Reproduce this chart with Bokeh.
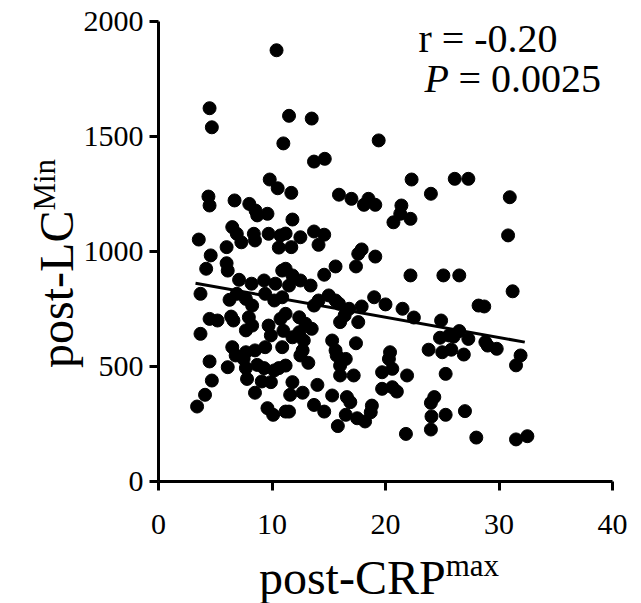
from bokeh.plotting import figure
from bokeh.models import Label, Range1d, FixedTicker
from bokeh.embed import file_html
from bokeh.resources import INLINE
import math

# post-CRP max (x) and post-LC Min (y)
crp = [10.4, 4.5, 4.7, 11.5, 13.5, 19.4, 11.0,
       9.8, 10.5, 4.4, 4.5, 6.7, 8.0, 8.55, 8.7, 9.6, 3.55, 6.5, 6.9, 7.3, 6.0, 8.4, 8.5, 9.7, 10.75, 10.6,
       13.7, 14.65, 11.7, 22.3, 15.9, 17.0, 18.5, 18.1, 19.1, 21.4, 21.3, 20.7, 22.2, 11.8, 11.2, 12.5, 13.7, 14.6, 14.1, 11.7, 17.9,
       26.1, 27.3, 24.0, 30.95, 30.8,
       4.6, 6.0, 6.1, 4.2, 7.1, 8.2, 9.3, 10.3, 10.9, 3.7, 6.26, 6.9, 7.7, 8.25, 9.4, 10.2, 10.9, 4.5, 5.2, 6.4, 6.6, 7.96, 8.25,
       7.7, 9.7, 9.9, 9.4, 10.75, 3.7, 6.5, 7.7, 8.5, 10.9,
       17.6, 17.4, 19.1, 15.6, 14.6, 22.2, 11.2, 11.8, 12.5, 13.4, 11.5, 15.0, 15.6, 14.1, 13.7, 15.9, 16.8, 17.9, 19.0, 20.0,
       21.5, 22.5, 16.4, 16.0, 17.6, 12.4, 12.95, 13.5, 12.4, 11.8, 12.8, 11.2, 15.3, 17.4, 20.4, 12.7, 15.6, 11.0,
       25.1, 26.5, 31.2, 28.2, 28.7, 24.9, 24.8, 25.6, 26.5, 26.0, 27.3, 28.8, 29.0, 29.8, 23.8, 25.0, 25.8, 26.9, 31.9,
       4.5, 6.1, 7.7, 7.8, 8.7, 9.3, 10.2, 10.6, 4.7, 9.1, 9.9, 4.1, 8.5, 3.4, 9.6, 10.1, 11.2, 6.8, 7.5,
       11.2, 13.2, 16.0, 16.0, 17.2, 19.7, 20.3, 20.6, 21.9, 11.8, 14.0, 11.6, 12.7, 19.7, 20.6, 21.0, 15.3, 16.6, 16.9, 18.8,
       13.7, 14.6, 11.5, 16.5, 17.5, 18.2, 18.7, 15.8, 21.8, 12.5, 15.7, 16.5,
       31.5, 25.3, 24.3, 24.0, 24.05, 25.3, 27.0, 24.0, 28.0, 31.5, 32.5]
lc = [1875, 1623, 1540, 1590, 1578, 1483, 1470,
      1313, 1275, 1239, 1200, 1222, 1207, 1178, 1157, 1164, 1052, 1106, 1077, 1040, 1019, 1077, 1048, 1077, 1070, 1017,
      1391, 1403, 1255, 1313, 1247, 1229, 1229, 1203, 1203, 1200, 1164, 1127, 1142, 1139, 1078, 1062, 1087, 1073, 1029, 1019, 1009,
      1316, 1316, 1251, 1236, 1070,
      983, 949, 917, 925, 877, 860, 874, 860, 917, 816, 790, 816, 794, 765, 816, 787, 801, 707, 700, 717, 700, 714, 678,
      657, 678, 635, 584, 707, 642, 584, 562, 570, 584,
      990, 935, 978, 935, 899, 896, 925, 896, 874, 852, 852, 809, 787, 787, 765, 773, 751, 761, 801, 770,
      751, 713, 722, 693, 693, 714, 686, 664, 649, 627, 613, 729, 613, 601, 562, 570, 570, 655,
      896, 896, 827, 765, 761, 700, 625, 635, 654, 630, 620, 606, 591, 577, 573, 562, 573, 552, 548,
      522, 497, 493, 446, 507, 493, 483, 493, 439, 435, 432, 377, 386, 326, 319, 290, 304, 548, 533,
      504, 516, 504, 461, 461, 475, 533, 490, 461, 432, 420, 377, 386, 403, 410, 391, 374, 367, 345, 330,
      333, 304, 304, 290, 275, 261, 301, 241, 207, 548, 548, 533,
      505, 468, 367, 342, 283, 290, 306, 226, 191, 183, 197]

# regression line end points
fit_x = [3.26, 32.27]
fit_y = [862, 606]

x_ticks = [0, 10, 20, 30, 40]
y_ticks = [0, 500, 1000, 1500, 2000]

FONT = "Liberation Serif"

# frame covers the whole canvas; axes are pinned at 0 with bounds
p = figure(width=641, height=603, min_border=0,
           x_range=Range1d(-13.921, 42.555), y_range=Range1d(-530.4, 2091.3),
           output_backend="svg", toolbar_location=None, tools="")
p.outline_line_color = None
p.grid.visible = False
p.background_fill_color = "white"
p.border_fill_color = "white"

for ax in (p.xaxis[0], p.yaxis[0]):
    ax.fixed_location = 0
    ax.axis_line_width = 3
    ax.axis_line_color = "black"
    ax.major_tick_line_width = 3
    ax.major_tick_line_color = "black"
    ax.major_tick_out = 9
    ax.major_tick_in = 0
    ax.minor_tick_line_color = None
    ax.major_label_text_font = FONT
    ax.major_label_text_font_size = "30px"
    ax.major_label_text_color = "black"

p.xaxis[0].ticker = FixedTicker(ticks=x_ticks)
p.yaxis[0].ticker = FixedTicker(ticks=y_ticks)
p.xaxis[0].bounds = (0, 40)
p.yaxis[0].bounds = (0, 2000)
p.xaxis[0].major_label_standoff = 24
p.yaxis[0].major_label_standoff = 6

p.scatter(crp, lc, size=13, color="black", marker="circle")
p.line(fit_x, fit_y, line_width=3, color="black")

# stats text
p.add_layout(Label(x=22.9, y=1925, text="r = -0.20", text_font=FONT, text_font_size="40px",
                   text_color="black", text_baseline="middle", text_align="left"))
p.add_layout(Label(x=23.44, y=1751, text="P", text_font=FONT, text_font_style="italic",
                   text_font_size="40px", text_color="black", text_baseline="middle", text_align="left"))
p.add_layout(Label(x=23.44, y=1751, x_offset=34, text="= 0.0025", text_font=FONT, text_font_size="40px",
                   text_color="black", text_baseline="middle", text_align="left"))

# x axis title with superscript
p.add_layout(Label(x=25.3, y=-417, text="post-CRP", text_font=FONT, text_font_size="48px",
                   text_color="black", text_baseline="middle", text_align="right"))
p.add_layout(Label(x=25.3, y=-417, y_offset=12, text="max", text_font=FONT, text_font_size="31px",
                   text_color="black", text_baseline="middle", text_align="left"))

# y axis title with superscript (rotated)
p.add_layout(Label(x=-9.0, y=1178, text="post-LC", text_font=FONT, text_font_size="48px",
                   angle=math.pi / 2, text_color="black", text_baseline="middle", text_align="right"))
p.add_layout(Label(x=-9.0, y=1178, x_offset=-12, text="Min", text_font=FONT, text_font_size="31px",
                   angle=math.pi / 2, text_color="black", text_baseline="middle", text_align="left"))

open("out.html", "w").write(file_html(p, INLINE))
